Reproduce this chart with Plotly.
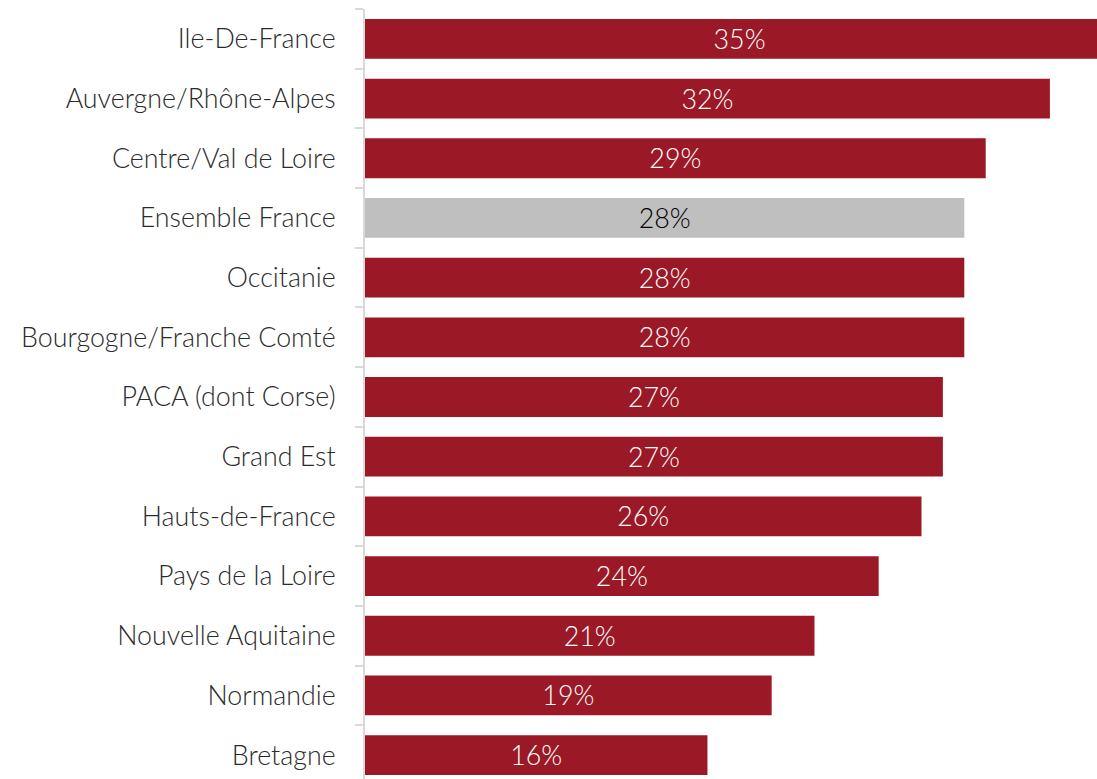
import plotly.graph_objects as go

regions = ["Ile-De-France", "Auvergne/Rhône-Alpes", "Centre/Val de Loire", "Ensemble France",
           "Occitanie", "Bourgogne/Franche Comté", "PACA (dont Corse)", "Grand Est",
           "Hauts-de-France", "Pays de la Loire", "Nouvelle Aquitaine", "Normandie", "Bretagne"]
values = [35, 32, 29, 28, 28, 28, 27, 27, 26, 24, 21, 19, 16]
highlight = "Ensemble France"

RED = "#9b1826"
GREY = "#bfbfbf"
colors = [GREY if r == highlight else RED for r in regions]
text_colors = ["#000000" if r == highlight else "#ffffff" for r in regions]
labels = [f"{v}%" for v in values]

FONT = "Lato"
FS = 26.8

fig = go.Figure(go.Bar(
    x=values, y=regions, orientation="h",
    marker=dict(color=colors, line=dict(width=0)),
    text=labels, textposition="inside", insidetextanchor="middle", textangle=0,
    textfont=dict(family=FONT, size=FS, color=text_colors, weight=300),
    hoverinfo="skip",
))

fig.update_layout(
    width=1097, height=779,
    margin=dict(l=365, r=0, t=9, b=0),
    paper_bgcolor="white", plot_bgcolor="white",
    bargap=0.333,
    showlegend=False,
    font=dict(family=FONT, size=FS, color="#2b2b2b", weight=300),
)
fig.update_xaxes(range=[0, 34.2], visible=False, showgrid=False, zeroline=False)
fig.update_yaxes(
    type="category", categoryorder="array", categoryarray=regions,
    range=[12.4, -0.5],
    showline=True, linecolor="#d9d9d9", linewidth=2,
    ticks="outside", tickson="boundaries", ticklen=8, tickcolor="#d9d9d9", tickwidth=2,
    ticklabelstandoff=22,
    showgrid=False, zeroline=False,
    tickfont=dict(family=FONT, size=FS, color="#2b2b2b", weight=300),
)

fig.write_html(
    "out.html",
    config={"displayModeBar": False, "staticPlot": True},
    post_script="document.body.style.margin='0';document.body.style.overflow='hidden';",
)
